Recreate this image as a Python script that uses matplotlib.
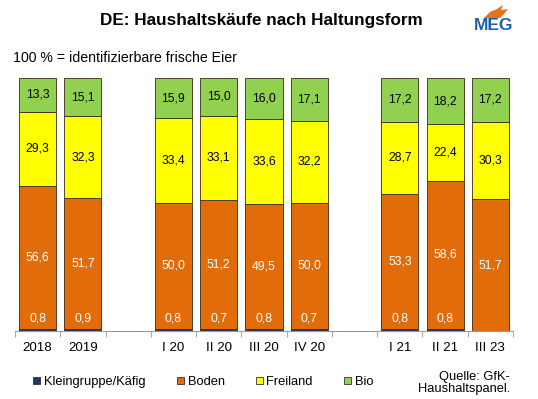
import matplotlib
matplotlib.use('Agg')
import matplotlib.pyplot as plt
from matplotlib.patches import Patch, Polygon
import numpy as np

# data -------------------------------------------------------------------------
categories = ['2018', '2019', '', 'I 20', 'II 20', 'III 20', 'IV 20', '', 'I 21', 'II 21', 'III 23']
kleingruppe = [0.8, 0.9, 0.8, 0.7, 0.8, 0.7, 0.8, 0.8, 0.0]
boden = [56.6, 51.7, 50.0, 51.2, 49.5, 50.0, 53.3, 58.6, 51.7]
freiland = [29.3, 32.3, 33.4, 33.1, 33.6, 32.2, 28.7, 22.4, 30.3]
bio = [13.3, 15.1, 15.9, 15.0, 16.0, 17.1, 17.2, 18.2, 17.2]

series_names = ['Kleingruppe/Käfig', 'Boden', 'Freiland', 'Bio']
colors = ['#1F3864', '#E36C0A', '#FFFF00', '#92D050']
text_colors = ['white', 'white', 'black', 'black']

plt.rcParams['font.family'] = ['Liberation Sans', 'DejaVu Sans']

# plot -------------------------------------------------------------------------
fig = plt.figure(figsize=(5.38, 3.99), dpi=100)
ax = fig.add_axes([15 / 538, (399 - 331) / 399, (513 - 15) / 538, (331 - 78) / 399])

x = np.array([i for i, c in enumerate(categories) if c != ''])
all_series = [np.array(s) for s in [kleingruppe, boden, freiland, bio]]
total = sum(all_series)  # bars are stacked to 100 %

bottom = np.zeros(len(x))
for k, (v, color) in enumerate(zip(all_series, colors)):
    h = v / total * 100
    ax.bar(x, h, width=0.82, bottom=bottom, color=color, edgecolor='#3a2a1a', linewidth=0.6)
    for xi, b, hh, val in zip(x, bottom, h, v):
        if val <= 0:
            continue
        y = 5 if k == 0 else b + hh / 2
        ax.text(xi, y, f'{val:.1f}'.replace('.', ','), ha='center', va='center',
                fontsize=8.7, color=text_colors[k])
    bottom = bottom + h

ax.set_xlim(-0.5, len(categories) - 0.5)
ax.set_ylim(0, 100)
for s in ['left', 'right', 'top']:
    ax.spines[s].set_visible(False)
ax.spines['bottom'].set_color('#999999')
ax.set_yticks([])
ax.set_xticks(range(len(categories)))
ax.set_xticklabels(categories, fontsize=9.6)
ax.tick_params(axis='x', which='major', length=0, pad=8)
ax.set_xticks(np.arange(-0.5, len(categories)), minor=True)
ax.tick_params(axis='x', which='minor', length=4, color='#999999')

# texts ------------------------------------------------------------------------
fig.text(261 / 538, 1 - 21 / 399, 'DE: Haushaltskäufe nach Haltungsform', ha='center', va='center',
         fontsize=12.3, fontweight='bold')
fig.text(13 / 538, 1 - 58 / 399, '100 % = identifizierbare frische Eier', ha='left', va='center',
         fontsize=10.2)

# logo
fig.text(494 / 538, 1 - 26 / 399, 'MEG', ha='center', va='center', fontsize=12.5,
         fontweight='bold', color='#1F5FAD')
flame = [(484, 18), (490, 12), (497, 9), (503, 5), (501, 10), (508, 9), (504, 14), (500, 18)]
fig.patches.append(Polygon([(px / 538, 1 - py / 399) for px, py in flame], closed=True,
                           facecolor='#E8731C', edgecolor='none', transform=fig.transFigure))

handles = [Patch(facecolor=c, edgecolor='#333333', linewidth=0.6) for c in colors]
fig.legend(handles, series_names, loc='center left', bbox_to_anchor=(24 / 538, 1 - 382 / 399),
           ncol=4, frameon=False, fontsize=9.3, handlelength=0.55, handleheight=0.55,
           handletextpad=0.3, columnspacing=2.4, borderpad=0.2)

fig.text(510 / 538, 1 - 383 / 399, 'Quelle: GfK-\nHaushaltspanel.', ha='right', va='center',
         fontsize=9.3, linespacing=1.1)

fig.savefig('out.png', dpi=100)
